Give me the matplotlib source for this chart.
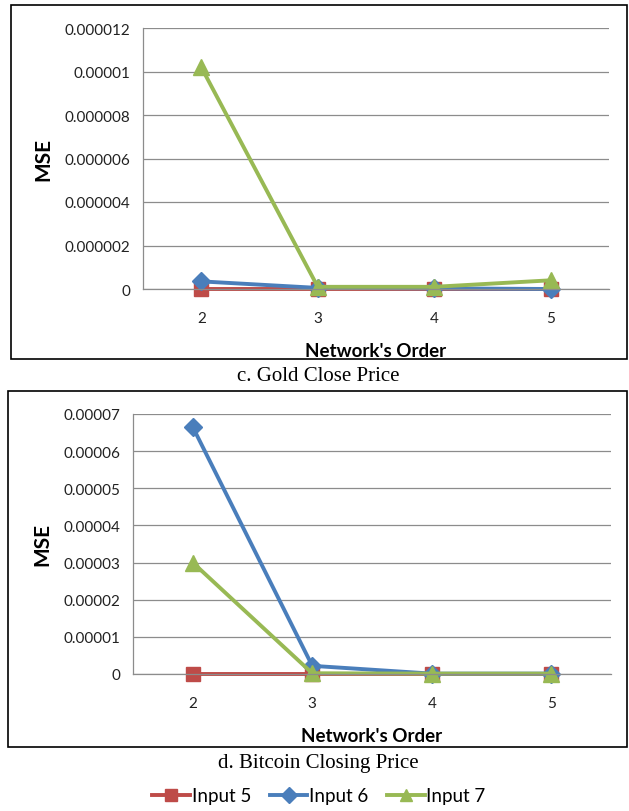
import matplotlib.pyplot as plt
from matplotlib.patches import Rectangle

orders = [2, 3, 4, 5]
series_names = ["Input 5", "Input 6", "Input 7"]

# c. Gold Close Price
gold_in5 = [0.0, 0.0, 0.0, 0.0]
gold_in6 = [3.5e-7, 5e-8, 3e-8, 0.0]
gold_in7 = [1.02e-5, 1e-7, 1e-7, 4e-7]
gold_yticks = [0, 0.000002, 0.000004, 0.000006, 0.000008, 0.00001, 0.000012]
gold_ylabels = ["0", "0.000002", "0.000004", "0.000006", "0.000008", "0.00001", "0.000012"]

# d. Bitcoin Closing Price
btc_in5 = [0.0, 0.0, 0.0, 0.0]
btc_in6 = [6.65e-5, 2.2e-6, 1e-7, 1e-7]
btc_in7 = [3.0e-5, 2e-7, 1e-7, 1e-7]
btc_yticks = [0, 0.00001, 0.00002, 0.00003, 0.00004, 0.00005, 0.00006, 0.00007]
btc_ylabels = ["0", "0.00001", "0.00002", "0.00003", "0.00004", "0.00005", "0.00006", "0.00007"]

colors = ["#BE4B48", "#4A7EBB", "#98B954"]
markers = ["s", "D", "^"]
msizes = [10, 9, 11]

W, H = 629, 812
fig = plt.figure(figsize=(W / 100, H / 100), dpi=100)
plt.rcParams['font.family'] = ['Lato', 'DejaVu Sans']


def px(x0, y0, x1, y1):
    # pixel box -> figure fraction [left, bottom, width, height]
    return [x0 / W, 1 - y1 / H, (x1 - x0) / W, (y1 - y0) / H]


def panel(rect, data, yticks, ylabels):
    ax = fig.add_axes(rect)
    pos = list(range(len(orders)))
    handles = []
    for vals, c, m, ms, name in zip(data, colors, markers, msizes, series_names):
        h, = ax.plot(pos, vals, color=c, marker=m, markersize=ms, lw=2.8,
                     markeredgecolor=c, label=name, clip_on=False)
        handles.append(h)
    ax.set_xlim(-0.5, len(orders) - 0.5)
    ax.set_ylim(yticks[0], yticks[-1])
    ax.set_xticks(pos)
    ax.set_xticklabels([str(o) for o in orders])
    ax.set_yticks(yticks)
    ax.set_yticklabels(ylabels)
    ax.tick_params(length=0, labelsize=11, colors="#222222", pad=9)
    ax.tick_params(axis="x", pad=16)
    ax.grid(axis="y", color="#8c8c8c", lw=0.9)
    ax.set_axisbelow(True)
    for s in ["top", "right"]:
        ax.spines[s].set_visible(False)
    for s in ["left", "bottom"]:
        ax.spines[s].set_color("#8c8c8c")
        ax.spines[s].set_linewidth(0.9)
    ax.set_ylabel("MSE", fontsize=15, fontweight="bold", labelpad=8)
    ax.set_xlabel("Network's Order", fontsize=13.5, fontweight="bold", labelpad=12)
    return handles


panel(px(143, 29, 609, 290), [gold_in5, gold_in6, gold_in7], gold_yticks, gold_ylabels)
handles = panel(px(133, 415, 611, 675), [btc_in5, btc_in6, btc_in7], btc_yticks, btc_ylabels)

# frames round each panel
for x0, y0, x1, y1 in [(11, 6, 627, 360), (8, 392, 627, 748)]:
    fig.add_artist(Rectangle((x0 / W, 1 - y1 / H), (x1 - x0) / W, (y1 - y0) / H,
                             transform=fig.transFigure, fill=False, ec="black", lw=1.2))

fig.text(318 / W, 1 - 377 / H, "c. Gold Close Price", ha="center", va="center",
         fontsize=15, family="Liberation Serif")
fig.text(318 / W, 1 - 764 / H, "d. Bitcoin Closing Price", ha="center", va="center",
         fontsize=15, family="Liberation Serif")

fig.legend(handles=handles, loc="center", bbox_to_anchor=(319 / W, 1 - 797 / H),
           ncol=3, frameon=False, fontsize=13.5, handlelength=2.0, handletextpad=0.1,
           columnspacing=1.0, markerscale=0.85)

fig.savefig("out.png", dpi=100)
